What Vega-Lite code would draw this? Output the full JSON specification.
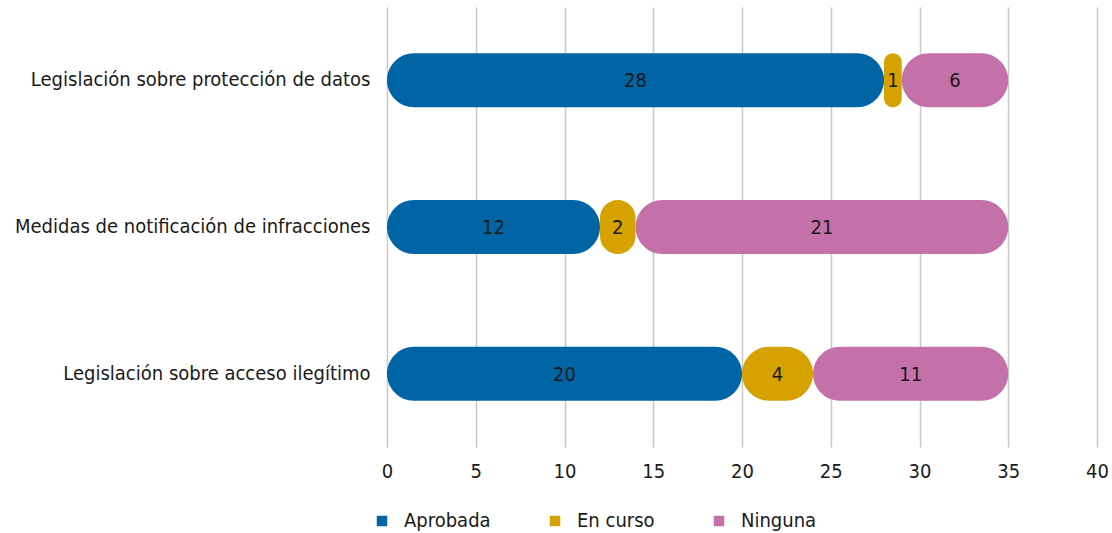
{
  "$schema": "https://vega.github.io/schema/vega-lite/v6.json",
  "width": 710,
  "height": 440,
  "autosize": {"type": "none"},
  "padding": {"left": 387, "top": 7, "right": 15, "bottom": 86},
  "background": "white",
  "config": {
    "font": "DejaVu Sans Condensed",
    "view": {"stroke": null},
    "axis": {"labelFont": "DejaVu Sans Condensed", "labelColor": "#1a1a1a", "labelFontSize": 20},
    "legend": {"labelFont": "DejaVu Sans Condensed"}
  },
  "data": {
    "values": [
      {"medida": "Legislación sobre protección de datos", "estado": "Aprobada", "valor": 28},
      {"medida": "Legislación sobre protección de datos", "estado": "En curso", "valor": 1},
      {"medida": "Legislación sobre protección de datos", "estado": "Ninguna", "valor": 6},
      {"medida": "Medidas de notificación de infracciones", "estado": "Aprobada", "valor": 12},
      {"medida": "Medidas de notificación de infracciones", "estado": "En curso", "valor": 2},
      {"medida": "Medidas de notificación de infracciones", "estado": "Ninguna", "valor": 21},
      {"medida": "Legislación sobre acceso ilegítimo", "estado": "Aprobada", "valor": 20},
      {"medida": "Legislación sobre acceso ilegítimo", "estado": "En curso", "valor": 4},
      {"medida": "Legislación sobre acceso ilegítimo", "estado": "Ninguna", "valor": 11}
    ]
  },
  "transform": [
    {"stack": "valor", "groupby": ["medida"], "sort": [{"field": "estado", "order": "ascending"}], "as": ["v0", "v1"]},
    {"calculate": "(datum.v0 + datum.v1) / 2", "as": "mid"}
  ],
  "encoding": {
    "y": {
      "field": "medida",
      "type": "nominal",
      "sort": null,
      "title": null,
      "scale": {"paddingInner": 0, "paddingOuter": 0},
      "axis": {"domain": false, "ticks": false, "labelPadding": 17, "labelFontSize": 20, "labelLimit": 400}
    }
  },
  "layer": [
    {
      "mark": {"type": "bar", "height": 54, "cornerRadius": 27},
      "encoding": {
        "x": {
          "field": "v0",
          "type": "quantitative",
          "scale": {"domain": [0, 40]},
          "title": null,
          "axis": {
            "values": [0, 5, 10, 15, 20, 25, 30, 35, 40],
            "grid": true,
            "gridColor": "#c8c8c8",
            "gridWidth": 1.5,
            "domain": false,
            "ticks": false,
            "labelFlush": false,
            "labelPadding": 14,
            "labelFontSize": 20
          }
        },
        "x2": {"field": "v1"},
        "color": {
          "field": "estado",
          "type": "nominal",
          "scale": {"domain": ["Aprobada", "En curso", "Ninguna"], "range": ["#0065a4", "#d6a200", "#c471a9"]},
          "legend": {
            "title": null,
            "orient": "none",
            "direction": "horizontal",
            "legendX": -15,
            "legendY": 504,
            "symbolType": "square",
            "symbolSize": 110,
            "symbolStrokeWidth": 0,
            "labelFontSize": 20,
            "labelColor": "#1a1a1a",
            "labelOffset": 12,
            "columnPadding": 54
          }
        }
      }
    },
    {
      "mark": {"type": "text", "fontSize": 20, "color": "#1a1a1a", "baseline": "middle", "dy": 1},
      "encoding": {
        "x": {"field": "mid", "type": "quantitative"},
        "text": {"field": "valor", "type": "quantitative"}
      }
    }
  ]
}
